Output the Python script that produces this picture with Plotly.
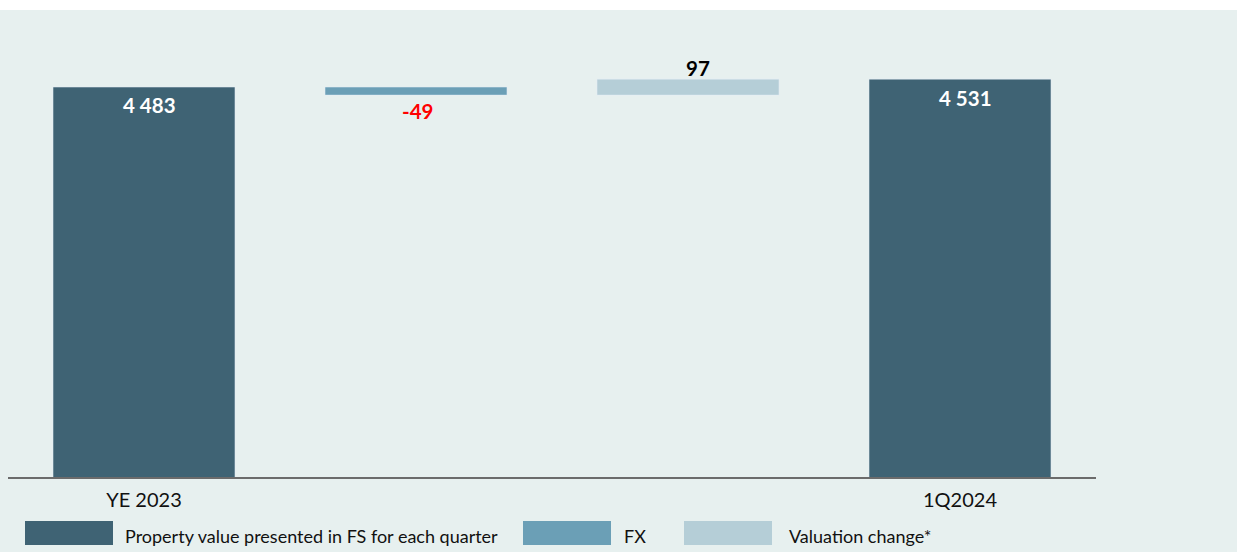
import plotly.graph_objects as go

# ---- data ----
categories = ["YE 2023", "FX", "Valuation change", "1Q2024"]
tick_labels = ["YE 2023", "", "", "1Q2024"]
start_value = 4483
fx_change = -49
valuation_change = 97
end_value = 4531
legend_names = ["Property value presented in FS for each quarter", "FX", "Valuation change*"]

colors = ["#3f6374", "#6b9fb6", "#b5ced7"]
bg = "#e7f0ef"
FONT = "Lato"

W, H = 1237, 552
ML, MR, MT, MB = 8, 141, 10, 75
PW, PH = W - ML - MR, H - MT - MB


def fmt(v):
    return f"{v:,}".replace(",", " ")


fig = go.Figure()
fig.add_trace(go.Bar(
    x=[categories[0], categories[3]], y=[start_value, end_value],
    marker_color=colors[0], name=legend_names[0],
))
fig.add_trace(go.Bar(
    x=[categories[1]], y=[fx_change], base=[start_value],
    marker_color=colors[1], name=legend_names[1],
))
fig.add_trace(go.Bar(
    x=[categories[2]], y=[valuation_change], base=[start_value + fx_change],
    marker_color=colors[2], name=legend_names[2],
))

# value labels (anchored to the bar ends in data coordinates)
labels = [
    (categories[0], start_value, fmt(start_value), "white", 5, -18),
    (categories[3], end_value, fmt(end_value), "white", 5, -19),
    (categories[1], start_value + fx_change, fmt(fx_change), "#ff0000", 1, -16),
    (categories[2], start_value + fx_change + valuation_change, fmt(valuation_change), "#000000", 10, 11),
]
for cx, cy, txt, col, xs, ys in labels:
    fig.add_annotation(x=cx, y=cy, text=txt, showarrow=False, xshift=xs, yshift=ys,
                       yanchor="middle", xanchor="center",
                       font=dict(size=20.5, family=FONT, color=col, weight="bold"))

ymin = 2116
ymax = ymin + PH * 6.07

fig.update_layout(
    width=W, height=H,
    margin=dict(l=ML, r=MR, t=MT, b=MB),
    paper_bgcolor=bg, plot_bgcolor=bg,
    barmode="overlay", bargap=0.331,
    showlegend=False,
    font=dict(family=FONT, color="#000000"),
    xaxis=dict(
        categoryorder="array", categoryarray=categories,
        tickvals=categories, ticktext=tick_labels, range=[-0.5, 3.5],
        showline=True, linecolor="#6b6b6b", linewidth=2,
        showgrid=False, ticks="", tickfont=dict(size=20, family=FONT, color="#111111"),
        ticklabelstandoff=4,
    ),
    yaxis=dict(range=[ymin, ymax], visible=False, showgrid=False, zeroline=False),
)


def px_x(p):
    return (p - ML) / PW


def px_y(p):
    return (H - MB - p) / PH


# white strip at top
fig.add_shape(type="rect", xref="paper", yref="paper",
              x0=px_x(0), x1=px_x(W), y0=px_y(10), y1=px_y(0),
              fillcolor="white", line_width=0, layer="above")

# custom legend
legend_boxes = [(25, 113, 123), (523, 611, 622), (684, 772, 787)]
for (x0, x1, tx), name, c in zip(legend_boxes, legend_names, colors):
    fig.add_shape(type="rect", xref="paper", yref="paper",
                  x0=px_x(x0), x1=px_x(x1), y0=px_y(545), y1=px_y(521),
                  fillcolor=c, line_width=0)
    fig.add_annotation(xref="paper", yref="paper", x=px_x(tx), y=px_y(536),
                       text=name, showarrow=False, xanchor="left", yanchor="middle",
                       font=dict(size=18, family=FONT, color="#111111"))

fig.write_html("out.html", config={"displayModeBar": False},
               post_script="document.body.style.margin='0';document.body.style.overflow='hidden';")
